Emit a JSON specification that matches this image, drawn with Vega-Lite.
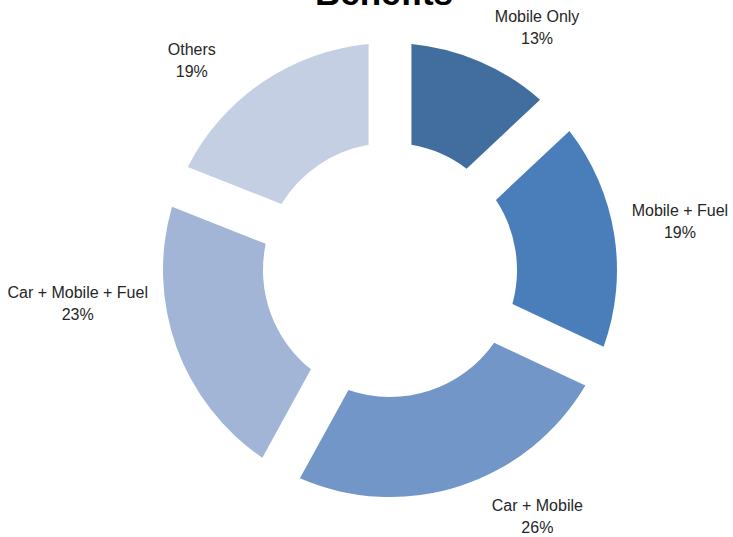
{
  "$schema": "https://vega.github.io/schema/vega-lite/v6.json",
  "width": 686,
  "height": 540,
  "autosize": "none",
  "padding": {"left": 47, "top": 0, "right": 0, "bottom": 0},
  "background": "white",
  "title": {"text": "Benefits", "font": "Liberation Sans", "fontSize": 35, "fontWeight": "bold", "color": "#000000", "frame": "group", "anchor": "middle", "baseline": "alphabetic", "offset": -40, "dx": -6},
  "data": {"values": [
    {"category": "Mobile Only", "pct": 13, "rank": 1},
    {"category": "Mobile + Fuel", "pct": 19, "rank": 2},
    {"category": "Car + Mobile", "pct": 26, "rank": 3},
    {"category": "Car + Mobile + Fuel", "pct": 23, "rank": 4},
    {"category": "Others", "pct": 19, "rank": 5}
  ]},
  "transform": [
    {"stack": "pct", "groupby": [], "sort": [{"field": "rank", "order": "ascending"}], "as": ["s0", "s1"]},
    {"calculate": "(datum.s0 + datum.s1) / 2", "as": "mid"},
    {"calculate": "datum.category + '\\n' + datum.pct + '%'", "as": "label"}
  ],
  "layer": [
    {
      "mark": {"type": "arc", "innerRadius": 127, "outerRadius": 227, "padAngle": 0.165},
      "encoding": {
        "theta": {"field": "s0", "type": "quantitative", "scale": {"domain": [0, 100]}},
        "theta2": {"field": "s1"},
        "color": {"field": "category", "type": "nominal", "legend": null,
          "scale": {"domain": ["Mobile Only", "Mobile + Fuel", "Car + Mobile", "Car + Mobile + Fuel", "Others"],
                    "range": ["#416D9F", "#4A7EBB", "#7396C8", "#A3B5D6", "#C4CFE3"]}}
      }
    },
    {
      "transform": [{"filter": "datum.category == 'Mobile Only'"}],
      "mark": {"type": "text", "radius": 284, "thetaOffset": 0.136, "dy": -10, "font": "Liberation Sans", "fontSize": 16, "color": "#262626", "lineBreak": "\n", "lineHeight": 22, "align": "center", "baseline": "middle"},
      "encoding": {"theta": {"field": "mid", "type": "quantitative", "scale": {"domain": [0, 100]}}, "text": {"field": "label", "type": "nominal"}}
    },
    {
      "transform": [{"filter": "datum.category == 'Mobile + Fuel'"}],
      "mark": {"type": "text", "radius": 294, "thetaOffset": -0.01, "dy": -10, "font": "Liberation Sans", "fontSize": 16, "color": "#262626", "lineBreak": "\n", "lineHeight": 22, "align": "center", "baseline": "middle"},
      "encoding": {"theta": {"field": "mid", "type": "quantitative", "scale": {"domain": [0, 100]}}, "text": {"field": "label", "type": "nominal"}}
    },
    {
      "transform": [{"filter": "datum.category == 'Car + Mobile'"}],
      "mark": {"type": "text", "radius": 287, "thetaOffset": -0.225, "dy": -10, "font": "Liberation Sans", "fontSize": 16, "color": "#262626", "lineBreak": "\n", "lineHeight": 22, "align": "center", "baseline": "middle"},
      "encoding": {"theta": {"field": "mid", "type": "quantitative", "scale": {"domain": [0, 100]}}, "text": {"field": "label", "type": "nominal"}}
    },
    {
      "transform": [{"filter": "datum.category == 'Car + Mobile + Fuel'"}],
      "mark": {"type": "text", "radius": 314, "thetaOffset": 0.241, "dy": -10, "font": "Liberation Sans", "fontSize": 16, "color": "#262626", "lineBreak": "\n", "lineHeight": 22, "align": "center", "baseline": "middle"},
      "encoding": {"theta": {"field": "mid", "type": "quantitative", "scale": {"domain": [0, 100]}}, "text": {"field": "label", "type": "nominal"}}
    },
    {
      "transform": [{"filter": "datum.category == 'Others'"}],
      "mark": {"type": "text", "radius": 289, "thetaOffset": -0.159, "dy": -10, "font": "Liberation Sans", "fontSize": 16, "color": "#262626", "lineBreak": "\n", "lineHeight": 22, "align": "center", "baseline": "middle"},
      "encoding": {"theta": {"field": "mid", "type": "quantitative", "scale": {"domain": [0, 100]}}, "text": {"field": "label", "type": "nominal"}}
    }
  ],
  "config": {"view": {"stroke": null}}
}
